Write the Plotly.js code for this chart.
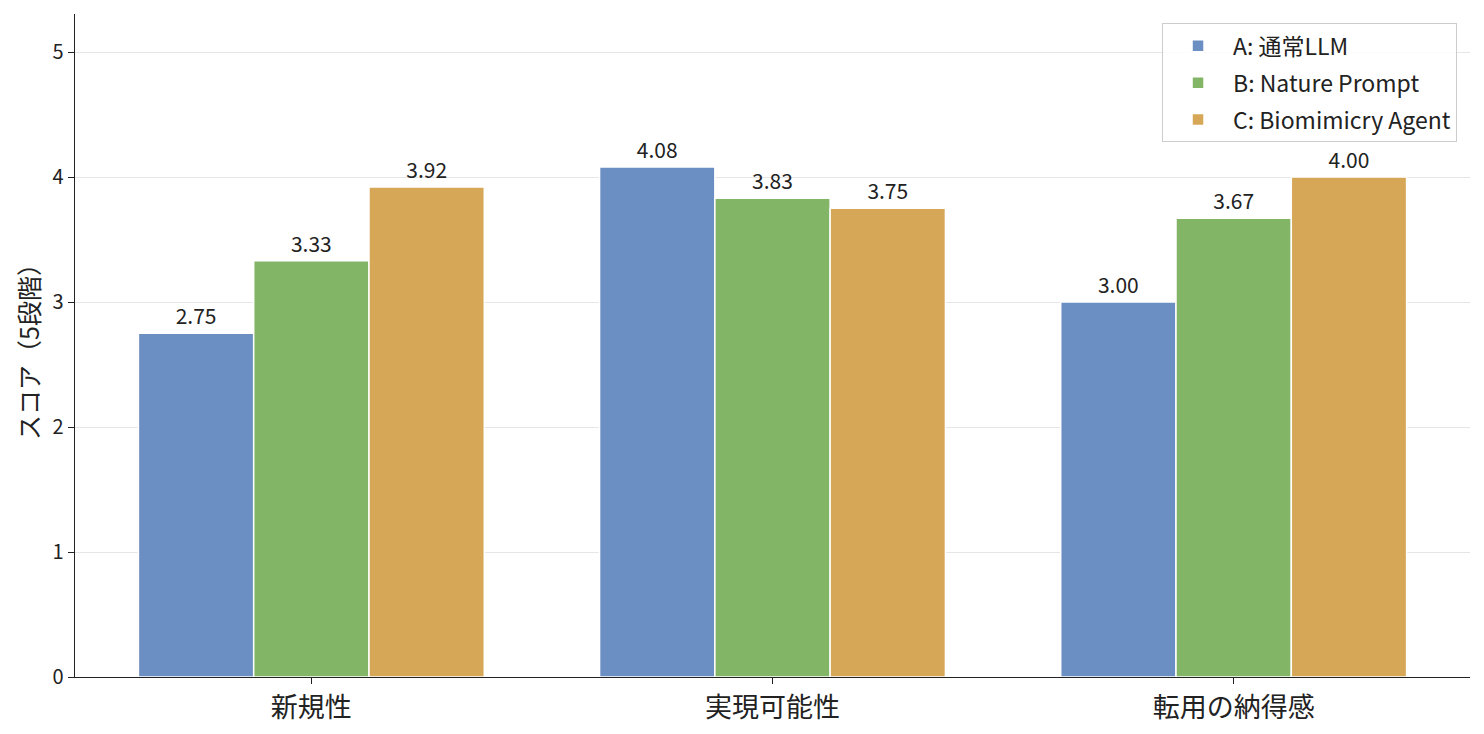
<!DOCTYPE html>
<html>
<head>
<meta charset="utf-8">
<script src="https://cdn.plot.ly/plotly-3.0.1.min.js"></script>
<style>html,body{margin:0;padding:0;background:#fff;}#chart{width:1484px;height:734px;}</style>
</head>
<body>
<div id="chart"></div>
<script>
const categories = ["新規性", "実現可能性", "転用の納得感"];
const seriesNames = ["A: 通常LLM", "B: Nature Prompt", "C: Biomimicry Agent"];
const valuesA = [2.75, 4.08, 3.00];
const valuesB = [3.33, 3.83, 3.67];
const valuesC = [3.92, 3.75, 4.00];
const yTicks = [0, 1, 2, 3, 4, 5];

const colors = ["#6b8fc2", "#82b566", "#d6a756"];
const seriesValues = [valuesA, valuesB, valuesC];
const FONT = "'Noto Sans CJK JP', 'Noto Sans', sans-serif";

const traces = seriesValues.map((vals, i) => ({
  type: "bar",
  name: seriesNames[i],
  legendgroup: "g" + i,
  x: categories,
  y: vals,
  marker: {color: colors[i], line: {color: "#ffffff", width: 1.5}},
  text: vals.map(v => v.toFixed(2)),
  textposition: "outside",
  cliponaxis: false,
  textfont: {family: FONT, size: 21, color: "#222"},
  hoverinfo: "skip"
}));

const layout = {
  width: 1484, height: 734,
  margin: {l: 75, r: 14, t: 14, b: 57},
  paper_bgcolor: "#fff", plot_bgcolor: "#fff",
  font: {family: FONT, color: "#222"},
  barmode: "group",
  bargap: 0.25,
  bargroupgap: 0,
  showlegend: true,
  legend: {
    x: 0.9907, xanchor: "right", y: 0.986, yanchor: "top",
    bgcolor: "rgba(255,255,255,0.85)", bordercolor: "#cccccc", borderwidth: 1,
    font: {family: FONT, size: 23, color: "#222"},
    traceorder: "grouped", tracegroupgap: 4, itemwidth: 60
  },
  xaxis: {
    type: "category",
    range: [-0.5125, 2.5125],
    showline: true, linecolor: "#222", linewidth: 1.3,
    ticks: "outside", ticklen: 6, tickcolor: "#222",
    tickfont: {family: FONT, size: 27, color: "#222"},
    showgrid: false, zeroline: false
  },
  yaxis: {
    range: [0, 5.304],
    tickvals: yTicks,
    ticktext: yTicks.map(String),
    showline: true, linecolor: "#222", linewidth: 1.3,
    ticks: "outside", ticklen: 6, tickcolor: "#222",
    tickfont: {family: FONT, size: 20, color: "#222"},
    showgrid: true, gridcolor: "#e6e6e6", gridwidth: 1,
    zeroline: false,
    title: {text: "スコア（5段階）", font: {family: FONT, size: 25, color: "#222"}, standoff: 5}
  }
};

Plotly.newPlot("chart", traces, layout, {displayModeBar: false, staticPlot: true});
</script>
</body>
</html>
